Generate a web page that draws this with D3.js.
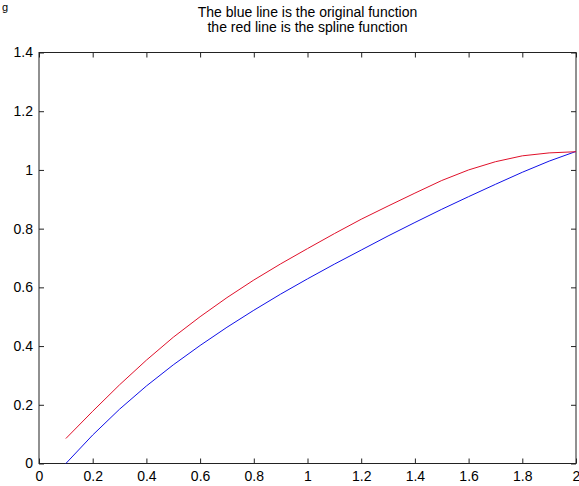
<!DOCTYPE html>
<html>
<head>
<meta charset="utf-8">
<script src="https://cdn.jsdelivr.net/npm/d3@7"></script>
<style>
  body { margin: 0; background: #fff; }
  svg { display: block; }
  text { font-family: "Liberation Sans", Arial, sans-serif; fill: #000; }
</style>
</head>
<body>
<div id="chart"></div>
<script>
var titleLines = ["The blue line is the original function", "the red line is the spline function"];

var xValues = [0.1, 0.2, 0.3, 0.4, 0.5, 0.6, 0.7, 0.8, 0.9, 1.0,
               1.1, 1.2, 1.3, 1.4, 1.5, 1.6, 1.7, 1.8, 1.9, 2.0];

// original function (blue)
var originalValues = [0, 0.097, 0.185, 0.264, 0.336, 0.402, 0.464, 0.522, 0.577, 0.629,
                      0.679, 0.727, 0.775, 0.821, 0.866, 0.909, 0.951, 0.992, 1.030, 1.063];

// spline function (red)
var splineValues = [0.085, 0.178, 0.268, 0.352, 0.430, 0.500, 0.565, 0.625, 0.680, 0.732,
                    0.783, 0.832, 0.877, 0.921, 0.964, 1.000, 1.028, 1.048, 1.058, 1.062];

var xTicks = [0, 0.2, 0.4, 0.6, 0.8, 1, 1.2, 1.4, 1.6, 1.8, 2];
var yTicks = [0, 0.2, 0.4, 0.6, 0.8, 1, 1.2, 1.4];

function drawChart() {
    var width = 579;
    var height = 486;
    var left = 39, right = 576, top = 52.5, bottom = 463.5;

    var svg = d3.select("#chart").append("svg")
        .attr("width", width)
        .attr("height", height);

    var x = d3.scaleLinear().domain([0, 2]).range([left, right]);
    var y = d3.scaleLinear().domain([0, 1.4]).range([bottom, top]);

    // window caption fragment in the top-left corner
    svg.append("text")
        .attr("x", 2)
        .attr("y", 11)
        .style("font-size", "11px")
        .text("g");

    // title
    svg.selectAll(".title")
        .data(titleLines)
        .enter()
        .append("text")
        .attr("class", "title")
        .attr("x", (left + right) / 2)
        .attr("y", function (d, i) { return 17 + i * 15; })
        .attr("text-anchor", "middle")
        .style("font-size", "14px")
        .text(function (d) { return d; });

    var fmt = function (d) { return d3.format("")(+d.toFixed(1)); };

    // axes with inward ticks, mirrored on top and right
    var axisStyle = function (g) {
        g.select(".domain").remove();
        g.selectAll("line").attr("stroke", "#222");
        g.selectAll("text").style("font-size", "14px").style("font-family", "Liberation Sans, Arial, sans-serif");
    };

    svg.append("g")
        .attr("transform", "translate(0," + bottom + ")")
        .call(d3.axisBottom(x).tickValues(xTicks).tickSize(-5).tickPadding(8).tickFormat(fmt))
        .call(axisStyle);

    svg.append("g")
        .attr("transform", "translate(" + left + ",0)")
        .call(d3.axisLeft(y).tickValues(yTicks).tickSize(-5).tickPadding(6).tickFormat(fmt))
        .call(axisStyle);

    svg.append("g")
        .attr("transform", "translate(0," + top + ")")
        .call(d3.axisTop(x).tickValues(xTicks).tickSize(-5).tickFormat(""))
        .call(axisStyle);

    svg.append("g")
        .attr("transform", "translate(" + right + ",0)")
        .call(d3.axisRight(y).tickValues(yTicks).tickSize(-5).tickFormat(""))
        .call(axisStyle);

    // box
    svg.append("rect")
        .attr("x", left)
        .attr("y", top)
        .attr("width", right - left)
        .attr("height", bottom - top)
        .attr("fill", "none")
        .attr("stroke", "#222")
        .attr("stroke-width", 1);

    var line = d3.line()
        .x(function (d) { return x(d[0]); })
        .y(function (d) { return y(d[1]); });

    svg.append("path")
        .datum(d3.zip(xValues, originalValues))
        .attr("fill", "none")
        .attr("stroke", "#1010e8")
        .attr("stroke-width", 1)
        .attr("d", line);

    svg.append("path")
        .datum(d3.zip(xValues, splineValues))
        .attr("fill", "none")
        .attr("stroke", "#e0102a")
        .attr("stroke-width", 1)
        .attr("d", line);
}

drawChart();
</script>
</body>
</html>
